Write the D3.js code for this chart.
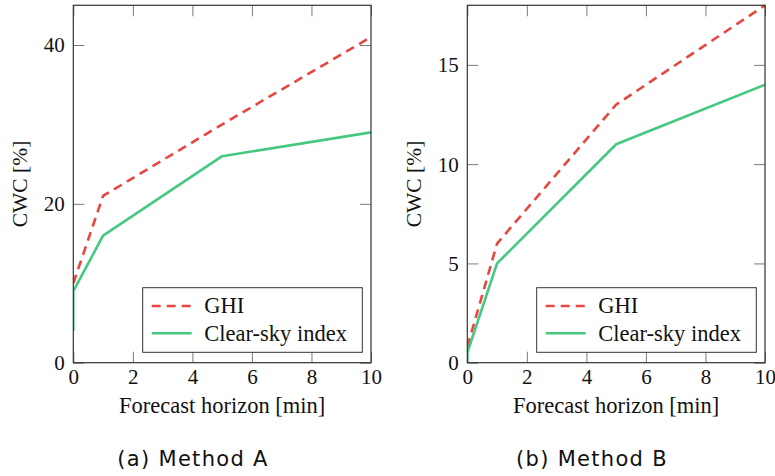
<!DOCTYPE html>
<html>
<head>
<meta charset="utf-8">
<script src="https://cdn.jsdelivr.net/npm/d3@7"></script>
<style>
  html, body { margin: 0; padding: 0; background: #fff; }
  svg { display: block; }
  .serif { font-family: "Liberation Serif", "DejaVu Serif", serif; }
  .sans { font-family: "DejaVu Sans", sans-serif; }
</style>
</head>
<body>
<svg id="chart" width="775" height="476"></svg>
<script>
// ---------------- data ----------------
const xTicks = [0, 2, 4, 6, 8, 10];
const xDomain = [0, 10];

// Method A
const horizonA_ghi = [0, 1, 5, 10];
const cwcA_ghi     = [10, 21, 30, 41];
const horizonA_csi = [0, 0, 1, 5, 10];
const cwcA_csi     = [4, 9, 16, 26, 29];
const yTicksA = [0, 20, 40];
const yDomainA = [0, 45];

// Method B
const horizonB_ghi = [0, 1, 5, 10];
const cwcB_ghi     = [0.8, 6, 13, 18];
const horizonB_csi = [0, 0, 1, 5, 10];
const cwcB_csi     = [0, 0.5, 5, 11, 14];
const yTicksB = [0, 5, 10, 15];
const yDomainB = [0, 18];

const seriesNames = ["GHI", "Clear-sky index"];
const captions = ["(a) Method A", "(b) Method B"];
const xLabel = "Forecast horizon [min]";
const yLabel = "CWC [%]";

// ---------------- style / layout ----------------
const RED = "#e8473f";
const GREEN = "#45c982";
const FRAME = "#333";
const TICK = "#7a7a7a";

const plotTop = 5.3, plotBottom = 362.7;
const panels = [
  { left: 73.3, right: 371, captionX: 193,
    yDomain: yDomainA, yTicks: yTicksA,
    series: [
      { name: seriesNames[0], x: horizonA_ghi, y: cwcA_ghi, color: RED, dash: "9,6" },
      { name: seriesNames[1], x: horizonA_csi, y: cwcA_csi, color: GREEN, dash: null }
    ], caption: captions[0] },
  { left: 467.3, right: 765, captionX: 592,
    yDomain: yDomainB, yTicks: yTicksB,
    series: [
      { name: seriesNames[0], x: horizonB_ghi, y: cwcB_ghi, color: RED, dash: "9,6" },
      { name: seriesNames[1], x: horizonB_csi, y: cwcB_csi, color: GREEN, dash: null }
    ], caption: captions[1] }
];

const svg = d3.select("#chart");

panels.forEach((p, pi) => {
  const x = d3.scaleLinear().domain(xDomain).range([p.left, p.right]);
  const y = d3.scaleLinear().domain(p.yDomain).range([plotBottom, plotTop]);
  const g = svg.append("g");

  const styleAxis = (sel, showText) => {
    sel.attr("font-family", null).attr("font-size", null);
    sel.select(".domain").remove();
    sel.selectAll(".tick line").attr("stroke", TICK).attr("stroke-width", 1);
    sel.selectAll(".tick text")
      .attr("fill", "#111")
      .attr("class", "serif")
      .style("font-size", "21px");
    if (!showText) sel.selectAll(".tick text").remove();
  };

  g.append("g").attr("transform", `translate(0,${plotBottom})`)
    .call(d3.axisBottom(x).tickValues(xTicks).tickFormat(d3.format("d"))
      .tickSizeInner(-11).tickSizeOuter(0).tickPadding(6))
    .call(s => styleAxis(s, true));
  g.append("g").attr("transform", `translate(0,${plotTop})`)
    .call(d3.axisTop(x).tickValues(xTicks).tickSizeInner(-11).tickSizeOuter(0))
    .call(s => styleAxis(s, false));
  g.append("g").attr("transform", `translate(${p.left},0)`)
    .call(d3.axisLeft(y).tickValues(p.yTicks).tickFormat(d3.format("d"))
      .tickSizeInner(-11).tickSizeOuter(0).tickPadding(8.5))
    .call(s => styleAxis(s, true))
    .call(s => s.selectAll(".tick text").attr("dy", "0.33em"));
  g.append("g").attr("transform", `translate(${p.right},0)`)
    .call(d3.axisRight(y).tickValues(p.yTicks).tickSizeInner(-11).tickSizeOuter(0))
    .call(s => styleAxis(s, false));

  const clipId = "clip" + pi;
  svg.append("clipPath").attr("id", clipId)
    .append("rect").attr("x", p.left).attr("y", plotTop - 2)
    .attr("width", p.right - p.left + 2).attr("height", plotBottom - plotTop + 2);

  const line = d3.line().x(d => x(d[0])).y(d => y(d[1]));
  const lines = g.append("g").attr("clip-path", `url(#${clipId})`);
  p.series.forEach(s => {
    const pts = s.x.map((v, i) => [v, s.y[i]]);
    lines.append("path")
      .attr("d", line(pts))
      .attr("fill", "none")
      .attr("stroke", s.color)
      .attr("stroke-width", 2.6)
      .attr("stroke-linejoin", "round")
      .attr("stroke-dasharray", s.dash);
  });

  g.append("rect")
    .attr("x", p.left).attr("y", plotTop)
    .attr("width", p.right - p.left).attr("height", plotBottom - plotTop)
    .attr("fill", "none").attr("stroke", FRAME).attr("stroke-width", 1.2);

  const lgW = 219.6, lgH = 64.6;
  const lgX = p.right - 8.7 - lgW, lgY = plotBottom - 10.4 - lgH;
  const lg = g.append("g").attr("transform", `translate(${lgX},${lgY})`);
  lg.append("rect").attr("width", lgW).attr("height", lgH)
    .attr("fill", "#fff").attr("stroke", FRAME).attr("stroke-width", 1);
  p.series.forEach((s, i) => {
    const ry = 18.3 + i * 27.3;
    lg.append("line")
      .attr("x1", 9).attr("x2", 49).attr("y1", ry).attr("y2", ry)
      .attr("stroke", s.color).attr("stroke-width", 2.6)
      .attr("stroke-dasharray", s.dash);
    lg.append("text")
      .attr("class", "serif")
      .attr("x", 61.6).attr("y", ry).attr("dy", "0.33em")
      .style("font-size", "22.5px")
      .attr("fill", "#111")
      .text(s.name);
  });

  g.append("text")
    .attr("class", "serif")
    .attr("x", (p.left + p.right) / 2).attr("y", 413)
    .attr("text-anchor", "middle")
    .style("font-size", "22.5px")
    .attr("fill", "#111")
    .text(xLabel);
  g.append("text")
    .attr("class", "serif")
    .attr("transform", `translate(${p.left - 53.5},${(plotTop + plotBottom) / 2}) rotate(-90)`)
    .attr("text-anchor", "middle").attr("dy", "0.35em")
    .style("font-size", "21.5px")
    .attr("fill", "#111")
    .text(yLabel);

  g.append("text")
    .attr("class", "sans")
    .attr("x", p.captionX).attr("y", 466)
    .attr("text-anchor", "middle")
    .style("font-size", "21px")
    .style("letter-spacing", "1.3px")
    .attr("fill", "#111")
    .text(p.caption);
});
</script>
</body>
</html>
